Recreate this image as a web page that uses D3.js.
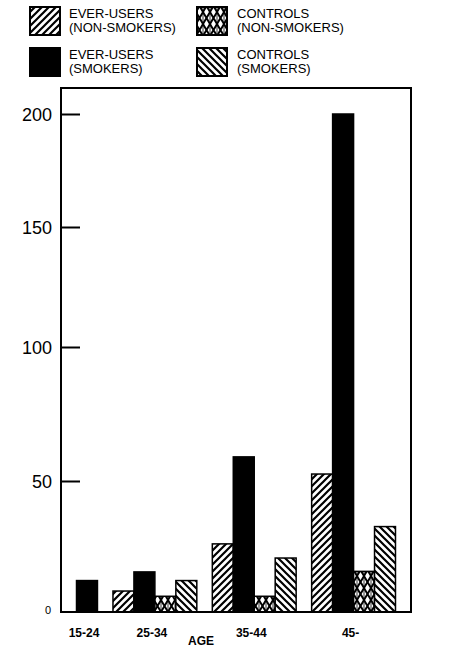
<!DOCTYPE html>
<html>
<head>
<meta charset="utf-8">
<script src="https://cdn.jsdelivr.net/npm/d3@7"></script>
<style>
  html, body { margin: 0; padding: 0; background: #fff; }
  svg { display: block; font-family: "Liberation Sans", Arial, sans-serif; }
</style>
</head>
<body>
<svg id="chart" width="468" height="653"></svg>
<script>
// ---- data ----
const ageGroups = ["15-24", "25-34", "35-44", "45-"];
const seriesNames = ["EVER-USERS (NON-SMOKERS)", "EVER-USERS (SMOKERS)", "CONTROLS (NON-SMOKERS)", "CONTROLS (SMOKERS)"];
const everUsersNonSmokers = [null, 8, 26, 52.6];
const everUsersSmokers    = [12, 15.3, 59, 200];
const controlsNonSmokers  = [null, 6, 6, 15.5];
const controlsSmokers     = [null, 12, 20.6, 32.6];
const yTicks = [0, 50, 100, 150, 200];
const xTitle = "AGE";
const legendLines = [["EVER-USERS", "(NON-SMOKERS)"], ["EVER-USERS", "(SMOKERS)"], ["CONTROLS", "(NON-SMOKERS)"], ["CONTROLS", "(SMOKERS)"]];

const seriesValues = [everUsersNonSmokers, everUsersSmokers, controlsNonSmokers, controlsSmokers];

// ---- layout ----
const svg = d3.select("#chart");
const frame = { left: 61, right: 411, top: 88, bottom: 612 };

// defs: patterns
const defs = svg.append("defs");
const pF = defs.append("pattern").attr("id", "hatchF").attr("patternUnits", "userSpaceOnUse")
  .attr("width", 7).attr("height", 7);
pF.append("rect").attr("width", 7).attr("height", 7).attr("fill", "#fff");
pF.append("path").attr("d", "M-1,1 l2,-2 M0,7 l7,-7 M6,8 l2,-2").attr("stroke", "#000").attr("stroke-width", 2.2);

const pB = defs.append("pattern").attr("id", "hatchB").attr("patternUnits", "userSpaceOnUse")
  .attr("width", 7).attr("height", 7);
pB.append("rect").attr("width", 7).attr("height", 7).attr("fill", "#fff");
pB.append("path").attr("d", "M-1,6 l2,2 M0,0 l7,7 M6,-1 l2,2").attr("stroke", "#000").attr("stroke-width", 2.2);

const pX = defs.append("pattern").attr("id", "cross").attr("patternUnits", "userSpaceOnUse")
  .attr("width", 7).attr("height", 12);
pX.append("rect").attr("width", 7).attr("height", 12).attr("fill", "#fff");
pX.append("path").attr("d", "M0,0 L7,12 M7,0 L0,12").attr("stroke", "#000").attr("stroke-width", 1.9);
pX.append("path").attr("d", "M0,0 V12 M7,0 V12").attr("stroke", "#000").attr("stroke-width", 0.8);

const fills = ["url(#hatchF)", "#000", "url(#cross)", "url(#hatchB)"];

// y scale (tick spacing in the original is uneven; follow it)
const y = d3.scaleLinear().domain(yTicks).range([612, 481, 347, 227, 114]);

// flatten bars: consecutive bars inside a group, gaps between groups
const gapUnits = 0.74;
const bars = [];
let cursor = gapUnits;
const groupSpans = [];
ageGroups.forEach((g, gi) => {
  const start = cursor;
  seriesValues.forEach((vals, si) => {
    if (vals[gi] != null) {
      bars.push({ group: g, series: si, value: vals[gi], pos: cursor });
      cursor += 1;
    }
  });
  groupSpans.push({ group: g, start, end: cursor });
  cursor += gapUnits;
});
const x = d3.scaleLinear().domain([0, cursor]).range([frame.left, frame.right]);

// bars
svg.append("g").selectAll("rect").data(bars).join("rect")
  .attr("x", d => x(d.pos))
  .attr("width", d => x(d.pos + 1) - x(d.pos))
  .attr("y", d => y(d.value))
  .attr("height", d => y(0) - y(d.value))
  .attr("fill", d => fills[d.series])
  .attr("stroke", "#000")
  .attr("stroke-width", 1.5);

// frame
svg.append("rect")
  .attr("x", frame.left).attr("y", frame.top)
  .attr("width", frame.right - frame.left).attr("height", frame.bottom - frame.top)
  .attr("fill", "none").attr("stroke", "#000").attr("stroke-width", 2);

// y axis
const yAxis = svg.append("g").attr("transform", `translate(${frame.left},0)`)
  .call(d3.axisLeft(y).tickValues(yTicks).tickSizeInner(-19).tickSizeOuter(0).tickPadding(10));
yAxis.select(".domain").remove();
yAxis.selectAll(".tick line").attr("stroke", "#000").attr("stroke-width", 2)
  .attr("display", d => d === 0 ? "none" : null);
yAxis.selectAll(".tick text")
  .attr("fill", "#000")
  .attr("font-family", "Liberation Sans, Arial, sans-serif")
  .attr("font-size", d => d === 0 ? 11 : 18)
  .attr("x", d => d === 0 ? -10 : -9)
  .attr("dy", d => d === 0 ? "0.1em" : "0.35em");

// x labels
svg.append("g").selectAll("text").data(groupSpans).join("text")
  .attr("x", d => (x(d.start) + x(d.end)) / 2 - 3)
  .attr("y", 637)
  .attr("text-anchor", "middle")
  .attr("font-size", 12).attr("font-weight", "bold")
  .text(d => d.group);

svg.append("text").attr("x", 201).attr("y", 645).attr("text-anchor", "middle")
  .attr("font-size", 12).attr("font-weight", "bold").text(xTitle);

// legend
const legendPos = [
  { bx: 30, by: 7, tx: 69, ty: 17.5 },
  { bx: 30, by: 48, tx: 69, ty: 58.5 },
  { bx: 197, by: 7, tx: 237, ty: 17.5 },
  { bx: 197, by: 48, tx: 237, ty: 58.5 }
];
const leg = svg.append("g").selectAll("g").data(seriesNames).join("g");
leg.append("rect")
  .attr("x", (d, i) => legendPos[i].bx).attr("y", (d, i) => legendPos[i].by)
  .attr("width", 30).attr("height", 28)
  .attr("fill", (d, i) => fills[i]).attr("stroke", "#000").attr("stroke-width", 2);
leg.each(function(d, i) {
  const t = d3.select(this).append("text")
    .attr("x", legendPos[i].tx).attr("y", legendPos[i].ty)
    .attr("font-size", 13).attr("fill", "#000");
  legendLines[i].forEach((line, li) => {
    t.append("tspan").attr("x", legendPos[i].tx).attr("dy", li === 0 ? 0 : 14.5).text(line);
  });
});
</script>
</body>
</html>
